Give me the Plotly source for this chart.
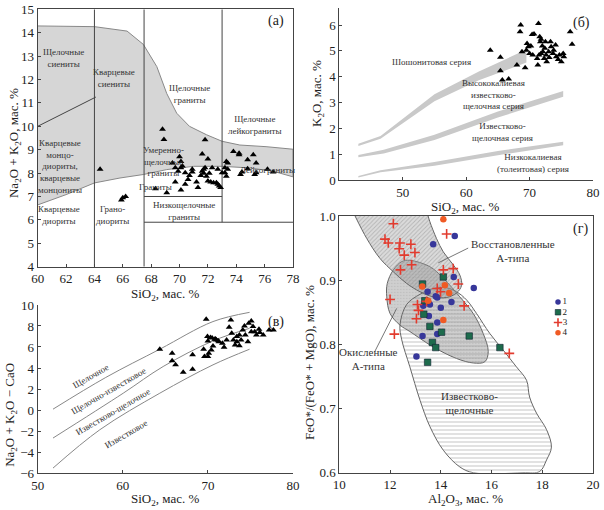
"""
Four-panel granite classification figure (TAS, K2O-SiO2, MALI, FeO*/(FeO*+MgO)-Al2O3).
Writes out.html.
"""

import plotly.graph_objects as go

# ---------------- panel (а): Na2O+K2O vs SiO2 ----------------
a_sio2 = [64.4, 65.9, 66.0, 66.2, 68.8, 68.9, 69.5, 70.0, 70.1, 70.1, 69.7, 69.9,
          70.2, 70.4, 70.6, 70.7, 70.9, 70.9, 69.7, 68.3, 69.1, 70.1, 70.4, 71.2,
          71.3, 71.5, 71.6, 71.6, 71.8, 72.0, 71.7, 71.7, 71.8, 71.9, 72.0, 72.1,
          72.3, 72.2, 72.4, 72.6, 72.7, 72.8, 72.9, 72.7, 73.0, 73.2, 73.2, 73.3,
          73.4, 73.3, 73.8, 74.2, 74.2, 74.8, 75.2, 75.4, 74.4, 74.3, 74.8, 75.3,
          75.4, 76.2, 76.6, 73.4]
a_alk = [8.16, 6.85, 6.95, 7.0, 9.87, 9.44, 8.43, 8.7, 8.5, 8.23, 8.23, 8.08,
         8.3, 8.01, 7.73, 7.9, 8.16, 8.05, 7.62, 7.33, 7.16, 7.28, 7.52, 7.62,
         7.38, 7.9, 8.08, 8.82, 9.42, 8.6, 7.99, 8.16, 8.23, 7.87, 7.66, 7.99,
         8.23, 7.62, 7.59, 7.59, 7.52, 7.45, 7.38, 8.16, 8.01, 8.23, 8.01, 8.5,
         8.16, 7.87, 8.92, 8.85, 8.78, 8.57, 8.78, 8.43, 8.05, 7.94, 8.19, 7.94,
         8.01, 8.16, 8.05, 8.43]

a_field_x = [60, 62, 64, 66.3, 67.45, 68.4, 69.1, 69.8, 70.7, 71.9, 73, 74.25, 76.1, 78]
a_field_top = [14.29, 14.28, 14.26, 14.07, 13.5, 12.55, 11.4, 10.56, 10.0, 9.64, 9.36, 9.2, 9.13, 9.02]
a_field_low_x = [60, 62, 64, 65.8, 67.45, 69.1, 71, 73, 74.95, 76.6, 78]
a_field_low = [6.64, 7.08, 7.58, 7.79, 7.94, 8.15, 8.29, 8.29, 8.22, 8.08, 7.84]

# boundary segments (None separates segments)
a_bound_x = [64, 64, None, 67.5, 67.5, None, 73, 73, None, 67.5, 73, None, 67.5, 78, None, 60, 64.1]
a_bound_y = [4, 15, None, 4, 15, None, 5.9, 15, None, 7.0, 7.0, None, 5.9, 5.9, None, 10.0, 11.25]

a_labels = ["Щелочные<br>сиениты", "Кварцевые<br>сиениты", "Щелочные<br>граниты",
            "Щелочные<br>лейкограниты", "Кварцевые<br>монцо-<br>диориты,<br>кварцевые<br>монцониты",
            "Умеренно-<br>щелочные<br>граниты", "Лейкограниты", "Граниты",
            "Грано-<br>диориты", "Кварцевые<br>диориты", "Низкощелочные<br>граниты"]
a_label_x = [61.8, 65.4, 70.7, 75.3, 61.6, 68.85, 76.2, 68.3, 65.3, 61.5, 70.3]
a_label_y = [12.9, 12.05, 11.4, 10.05, 8.3, 8.5, 8.13, 7.42, 6.2, 6.2, 6.4]

# ---------------- panel (б): K2O vs SiO2 ----------------
b_sio2 = [63.8, 65.4, 65.4, 65.7, 66.7, 68.0, 68.6, 68.5, 68.8, 69.3, 69.5, 69.6,
          69.8, 70.0, 70.2, 70.4, 70.7, 71.4, 71.2, 71.5, 71.6, 71.7, 71.8, 71.8,
          72.0, 72.1, 72.3, 72.4, 72.5, 72.6, 72.7, 73.0, 73.1, 73.3, 73.4, 73.7,
          73.8, 74.1, 74.2, 74.5, 74.7, 75.0, 75.3, 75.4, 76.4, 76.7, 71.3, 70.5]
b_k2o = [5.03, 4.75, 4.23, 3.87, 3.91, 4.45, 6.0, 5.74, 4.97, 4.35, 5.03, 5.29,
         5.16, 4.9, 5.19, 5.64, 5.65, 6.06, 4.71, 4.84, 5.55, 5.35, 5.45, 4.9,
         5.19, 4.97, 4.71, 5.1, 5.35, 4.84, 4.58, 4.97, 4.74, 5.35, 5.16, 4.9,
         5.03, 5.23, 4.77, 4.67, 4.84, 4.58, 4.9, 4.77, 5.74, 5.26, 4.45, 4.84]

b_band1_x = [43, 46.5, 55, 62, 69.5]
b_band1_hi = [1.40, 1.70, 3.32, 4.20, 5.05]
b_band1_lo = [1.32, 1.60, 3.05, 3.86, 4.55]
b_band2_x = [43, 47, 55, 65, 75.3]
b_band2_hi = [0.97, 1.17, 1.75, 2.65, 3.45]
b_band2_lo = [0.88, 1.03, 1.55, 2.42, 3.22]
b_band3_x = [43, 46.5, 55, 65, 75.3]
b_band3_hi = [0.15, 0.38, 0.70, 1.12, 1.48]
b_band3_lo = [0.10, 0.30, 0.55, 0.96, 1.35]

b_labels = ["Шошонитовая серия", "Высококалиевая<br>известково-<br>щелочная серия",
            "Известково-<br>щелочная серия", "Низкокалиевая<br>(толеитовая) серия"]
b_label_x = [54.5, 64.3, 65.8, 70.5]
b_label_y = [4.58, 3.3, 1.87, 0.65]

# ---------------- panel (в): Na2O+K2O-CaO vs SiO2 ----------------
c_sio2 = [64.35, 65.8, 65.8, 66.2, 67.1, 68.2, 68.2, 69.8, 69.95, 70.0, 69.5, 69.6,
          70.0, 70.1, 70.4, 70.6, 70.8, 71.0, 71.3, 71.7, 71.9, 72.2, 72.5, 72.7,
          72.8, 73.0, 73.2, 73.4, 73.4, 73.7, 73.7, 73.9, 74.1, 74.3, 74.4, 74.7,
          74.8, 75.1, 75.3, 75.5, 75.7, 76.0, 76.1, 75.1, 76.5, 77.2, 77.7, 70.3,
          70.5, 70.9, 71.2]
c_mali = [5.79, 5.41, 4.68, 4.3, 3.6, 5.25, 3.88, 8.64, 6.99, 6.58, 5.79, 5.09,
          5.09, 5.41, 5.72, 6.1, 6.74, 6.67, 6.51, 6.36, 5.98, 6.67, 7.88, 8.57,
          7.3, 6.67, 6.2, 6.51, 6.99, 6.13, 7.15, 6.67, 7.62, 8.0, 7.15, 6.51,
          8.26, 8.48, 7.94, 7.46, 7.15, 7.69, 7.37, 7.46, 7.15, 7.62, 7.62, 6.9,
          6.85, 6.75, 6.6]

c_line1_x = [51.8, 58.0, 64.35, 70.6, 74.9]
c_line1_y = [0.08, 3.1, 5.79, 8.42, 9.3]
c_line2_x = [51.8, 60.05, 64.74, 70.6, 74.9]
c_line2_y = [-2.67, 1.6, 4.14, 6.58, 7.78]
c_line3_x = [51.8, 57.3, 64.35, 70.6, 74.9]
c_line3_y = [-5.53, -1.88, 1.6, 4.3, 5.79]

c_labels = ["Щелочное", "Щелочно-известковое", "Известково-щелочное", "Известковое"]
c_label_x = [56.3, 58.3, 58.8, 60.4]
c_label_y = [3.2, 1.85, -0.2, -2.25]

# ---------------- panel (г): FeO*/(FeO*+MgO) vs Al2O3 ----------------
g1_al = [14.55, 13.7, 14.51, 15.3, 13.48, 13.8, 13.86, 13.57, 13.31, 14.42, 14.0,
         13.53, 13.86, 13.28, 13.86, 13.04]
g1_fe = [0.969, 0.956, 0.905, 0.888, 0.882, 0.875, 0.873, 0.862, 0.86, 0.866, 0.857,
         0.844, 0.834, 0.813, 0.816, 0.781]
g2_al = [13.28, 14.1, 13.37, 13.33, 13.57, 14.03, 13.67, 13.8, 15.12, 16.33, 13.48]
g2_fe = [0.894, 0.905, 0.868, 0.847, 0.828, 0.819, 0.803, 0.795, 0.813, 0.795, 0.772]
g3_al = [12.13, 11.8, 11.93, 12.39, 12.36, 12.82, 12.56, 12.98, 12.85, 12.41, 14.23,
         14.49, 14.1, 14.69, 13.86, 13.99, 12.0, 13.08, 13.12, 13.04, 12.17, 14.92,
         16.7, 13.44]
g3_fe = [0.988, 0.964, 0.958, 0.958, 0.949, 0.956, 0.939, 0.943, 0.924, 0.916, 0.972,
         0.918, 0.916, 0.894, 0.887, 0.882, 0.87, 0.862, 0.853, 0.84, 0.816, 0.86,
         0.786, 0.867]
g4_al = [14.1, 13.27, 14.16, 14.33, 13.5, 14.1]
g4_fe = [0.995, 0.89, 0.892, 0.88, 0.868, 0.838]

g_reduced_x = [10.62, 11.08, 11.6, 12.13, 12.65, 13.18, 13.7, 14.23, 14.62, 14.82,
               14.75, 14.49, 14.1, 13.83, 13.57, 13.5]
g_reduced_y = [1.0, 0.965, 0.934, 0.913, 0.895, 0.882, 0.874, 0.873, 0.88, 0.892,
               0.908, 0.924, 0.944, 0.965, 0.991, 1.0]
g_oxid_x = [12.78, 13.57, 14.1, 14.75, 15.28, 15.67, 15.87, 15.74, 15.28, 14.62,
            13.7, 12.78, 12.39, 12.0, 11.87, 11.89, 12.13, 12.46, 12.78]
g_oxid_y = [0.931, 0.921, 0.903, 0.874, 0.848, 0.817, 0.789, 0.773, 0.771, 0.778,
            0.796, 0.82, 0.83, 0.848, 0.874, 0.895, 0.916, 0.929, 0.931]
g_calc_x = [12.39, 12.65, 13.18, 13.7, 14.23, 14.62, 15.02, 15.41, 15.93, 16.46,
            16.98, 17.38, 17.5, 17.77, 18.17, 18.36, 18.17, 17.9, 17.24, 15.28,
            14.75, 14.1, 13.57, 13.18, 12.78, 12.46, 12.39]
g_calc_y = [0.83, 0.862, 0.878, 0.887, 0.888, 0.882, 0.869, 0.848, 0.817, 0.791,
            0.765, 0.744, 0.718, 0.693, 0.667, 0.64, 0.62, 0.602, 0.6, 0.6,
            0.609, 0.635, 0.672, 0.713, 0.765, 0.807, 0.83]

g_legend_names = ["1", "2", "3", "4"]
g_legend_y = [0.866, 0.850, 0.834, 0.818]

g_labels = ["Восстановленные<br>А-типа", "Окисленные<br>А-типа", "Известково-<br>щелочные"]
g_label_x = [16.85, 11.15, 15.15]
g_label_y = [0.946, 0.777, 0.708]
g_leader_x = [15.08, 13.9, None, 11.4, 12.26]
g_leader_y = [0.95, 0.927, None, 0.789, 0.856]

# axis titles (text, paper x, paper y, angle)
SIO2 = "SiO<sub>2</sub>, мас. %"
axis_titles = [
    (SIO2, 0.2732, 0.4225, 0),
    ("Na<sub>2</sub>O + K<sub>2</sub>O, мас. %", 0.0232, 0.7196, -90),
    (SIO2, 0.7699, 0.5925, 0),
    ("K<sub>2</sub>O, мас. %", 0.5248, 0.8176, -90),
    (SIO2, 0.2732, 0.0215, 0),
    ("Na<sub>2</sub>O + K<sub>2</sub>O − CaO", 0.0180, 0.1863, -90),
    ("Al<sub>2</sub>O<sub>3</sub>, мас. %", 0.7699, 0.0215, 0),
    ("FeO*/(FeO* + MgO), мас. %", 0.5132, 0.2902, -90),
]

FONT = "Liberation Serif, Times New Roman, DejaVu Serif, serif"
TRI = dict(symbol="triangle-up", size=6, color="black")
LABEL_FONT = dict(family=FONT, size=9, color="#333")


def closed(xs, hi, lo):
    return list(xs) + list(xs)[::-1] + [xs[0]], list(hi) + list(lo)[::-1] + [hi[0]]


def axis(domain, rng, box=True, **kw):
    d = dict(domain=domain, range=rng, showgrid=False, zeroline=False, automargin=False,
             showline=True, linecolor="#444", linewidth=1, mirror=box,
             ticks="inside", ticklen=3, tickcolor="#444", ticklabeloverflow="allow",
             tickfont=dict(family=FONT, size=13, color="#222"))
    d.update(kw)
    return d


def main() -> None:
    fig = go.Figure()

    # (а)
    fig.add_trace(go.Scatter(
        x=a_field_x + a_field_low_x[::-1], y=a_field_top + a_field_low[::-1],
        fill="toself", fillcolor="#d6d6d6", mode="lines",
        line=dict(color="#888", width=1), xaxis="x", yaxis="y", hoverinfo="skip"))
    fig.add_trace(go.Scatter(x=a_bound_x, y=a_bound_y, mode="lines",
                             line=dict(color="#444", width=1), xaxis="x", yaxis="y"))
    fig.add_trace(go.Scatter(x=a_sio2, y=a_alk, mode="markers", marker=TRI,
                             xaxis="x", yaxis="y"))

    # (б)
    for bx, hi, lo in [(b_band1_x, b_band1_hi, b_band1_lo),
                       (b_band2_x, b_band2_hi, b_band2_lo),
                       (b_band3_x, b_band3_hi, b_band3_lo)]:
        px, py = closed(bx, hi, lo)
        fig.add_trace(go.Scatter(x=px, y=py, fill="toself", fillcolor="#c9c9c9",
                                 mode="lines", line=dict(width=0, color="#c9c9c9"),
                                 xaxis="x2", yaxis="y2"))
    fig.add_trace(go.Scatter(x=b_sio2, y=b_k2o, mode="markers", marker=TRI,
                             xaxis="x2", yaxis="y2"))

    # (в)
    for lx, ly in [(c_line1_x, c_line1_y), (c_line2_x, c_line2_y), (c_line3_x, c_line3_y)]:
        fig.add_trace(go.Scatter(x=lx, y=ly, mode="lines", line=dict(color="#888", width=1),
                                 line_shape="spline", xaxis="x3", yaxis="y3"))
    fig.add_trace(go.Scatter(x=c_sio2, y=c_mali, mode="markers", marker=TRI,
                             xaxis="x3", yaxis="y3"))

    # (г) fields
    fig.add_trace(go.Scatter(
        x=g_oxid_x, y=g_oxid_y, fill="toself", mode="lines", line_shape="spline",
        line=dict(color="#666", width=1), fillcolor="#cfcfcf",
        fillpattern=dict(shape=".", fgcolor="#a8a8a8", bgcolor="#cfcfcf", size=3, solidity=0.2),
        xaxis="x4", yaxis="y4"))
    fig.add_trace(go.Scatter(
        x=g_calc_x, y=g_calc_y, fill="toself", mode="lines", line_shape="spline",
        line=dict(color="#666", width=1), fillcolor="rgba(0,0,0,0)",
        fillpattern=dict(shape="-", fgcolor="#8a8a8a", bgcolor="rgba(0,0,0,0)", size=4, solidity=0.25),
        xaxis="x4", yaxis="y4"))
    fig.add_trace(go.Scatter(
        x=g_reduced_x, y=g_reduced_y, fill="toself", mode="lines", line_shape="spline",
        line=dict(color="#666", width=1), fillcolor="rgba(150,150,150,0.35)",
        fillpattern=dict(shape="/", fgcolor="#8c8c8c", bgcolor="rgba(150,150,150,0.35)", size=3, solidity=0.3),
        xaxis="x4", yaxis="y4"))
    fig.add_trace(go.Scatter(x=g_leader_x, y=g_leader_y, mode="lines",
                             line=dict(color="#555", width=0.8), xaxis="x4", yaxis="y4"))

    groups = [
        (g1_al, g1_fe, dict(symbol="circle", size=6.5, color="#37379a")),
        (g2_al, g2_fe, dict(symbol="square", size=6.5, color="#1d6b4c", line=dict(color="#123", width=0.6))),
        (g3_al, g3_fe, dict(symbol="cross-thin", size=7, color="#e23b2e",
                            line=dict(color="#e23b2e", width=1.6))),
        (g4_al, g4_fe, dict(symbol="circle", size=6.5, color="#f05a24")),
    ]
    for (gx, gy, mk), name, ly in zip(groups, g_legend_names, g_legend_y):
        fig.add_trace(go.Scatter(x=gx, y=gy, mode="markers", marker=mk,
                                 xaxis="x4", yaxis="y4"))
        small = dict(mk, size=mk["size"] - 1)
        fig.add_trace(go.Scatter(x=[18.62], y=[ly], mode="markers+text", marker=small,
                                 text=[name], textposition="middle right",
                                 textfont=dict(family=FONT, size=9, color="#222"),
                                 xaxis="x4", yaxis="y4"))

    ann = []
    for t, x, y in zip(a_labels, a_label_x, a_label_y):
        ann.append(dict(text=t, x=x, y=y, xref="x", yref="y", showarrow=False, font=LABEL_FONT))
    for t, x, y in zip(b_labels, b_label_x, b_label_y):
        ann.append(dict(text=t, x=x, y=y, xref="x2", yref="y2", showarrow=False, font=LABEL_FONT))
    for t, x, y in zip(c_labels, c_label_x, c_label_y):
        ann.append(dict(text=t, x=x, y=y, xref="x3", yref="y3", showarrow=False,
                        textangle=-30, font=LABEL_FONT))
    for t, x, y in zip(g_labels, g_label_x, g_label_y):
        ann.append(dict(text=t, x=x, y=y, xref="x4", yref="y4", showarrow=False,
                        font=dict(family=FONT, size=11, color="#333")))
    panel_font = dict(family=FONT, size=14, color="#222")
    ann += [
        dict(text="(а)", x=76.8, y=14.5, xref="x", yref="y", showarrow=False, font=panel_font),
        dict(text="(б)", x=78.2, y=6.1, xref="x2", yref="y2", showarrow=False, font=panel_font),
        dict(text="(в)", x=78.0, y=8.4, xref="x3", yref="y3", showarrow=False, font=panel_font),
        dict(text="(г)", x=19.5, y=0.979, xref="x4", yref="y4", showarrow=False, font=panel_font),
    ]
    tfont = dict(family=FONT, size=13, color="#222")
    for t, x, y, ang in axis_titles:
        ann.append(dict(text=t, x=x, y=y, xref="paper", yref="paper", showarrow=False,
                        textangle=ang, xanchor="center", yanchor="middle", font=tfont))

    fig.update_layout(
        width=604, height=510, showlegend=False,
        margin=dict(l=0, r=0, t=0, b=0, autoexpand=False),
        paper_bgcolor="white", plot_bgcolor="white",
        font=dict(family=FONT, size=12),
        xaxis=axis([0.0624, 0.4851], [60, 78], dtick=2),
        yaxis=axis([0.4771, 0.9817], [4, 15], dtick=1),
        xaxis2=axis([0.5618, 0.9818], [40, 80], box=False, tickvals=[50, 60, 70, 80], anchor="y2"),
        yaxis2=axis([0.6471, 0.9837], [0, 6.65], box=False, dtick=1, anchor="x2"),
        xaxis3=axis([0.0624, 0.4851], [50, 80], box=False, tickvals=[50, 60, 70, 80], anchor="y3"),
        yaxis3=axis([0.0725, 0.402], [-6, 10], box=False, dtick=2, anchor="x3"),
        xaxis4=axis([0.5618, 0.9818], [10, 20], dtick=2, anchor="y4"),
        yaxis4=axis([0.0731, 0.5765], [0.6, 1.0], dtick=0.1, tickformat=".1f", anchor="x4"),
        annotations=ann,
    )
    # drop the default 8 px page margin so the figure fills the window exactly
    fig.write_html("out.html", config={"displayModeBar": False},
                   post_script="document.body.style.margin='0';")


if __name__ == "__main__":
    main()
